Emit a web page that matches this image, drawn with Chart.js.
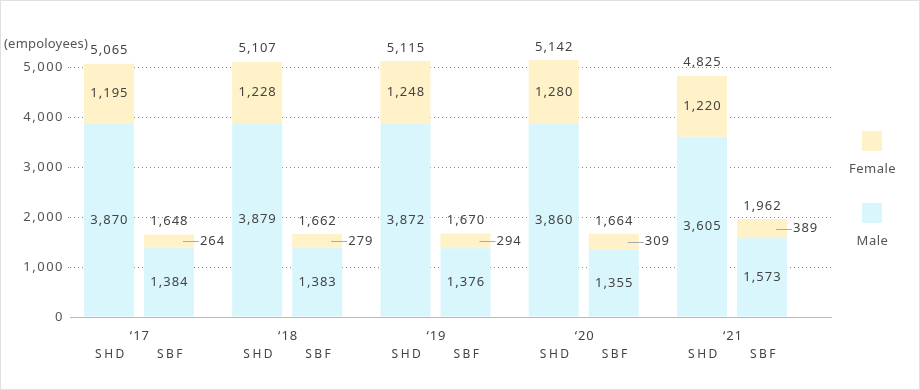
<!DOCTYPE html>
<html>
<head>
<meta charset="utf-8">
<script src="https://cdn.jsdelivr.net/npm/chart.js@4"></script>
<style>
  html, body { margin: 0; padding: 0; background: #fff; }
  canvas { display: block; }
</style>
</head>
<body>
<canvas id="myChart" width="920" height="390"></canvas>
<script>
// data
const years = ['‘17', '‘18', '‘19', '‘20', '‘21'];
const companies = ['SHD', 'SBF'];
const shdMale = [3870, 3879, 3872, 3860, 3605];
const shdFemale = [1195, 1228, 1248, 1280, 1220];
const shdTotal = [5065, 5107, 5115, 5142, 4825];
const sbfMale = [1384, 1383, 1376, 1355, 1573];
const sbfFemale = [264, 279, 294, 309, 389];
const sbfTotal = [1648, 1662, 1670, 1664, 1962];
const yTicks = [0, 1000, 2000, 3000, 4000, 5000];

const maleColor = '#d9f6fc';
const femaleColor = '#fff2c8';
const textColor = '#444';
const family = '"Noto Sans", sans-serif';

function points(arr) {
  return arr.map((v, i) => ({ x: i, y: v }));
}
const fmt = v => v.toLocaleString('en-US');

const labelsPlugin = {
  id: 'labels',
  beforeDraw(chart) {
    chart.ctx.letterSpacing = '1.5px';
  },
  afterDraw(chart) {
    const ctx = chart.ctx;
    const area = chart.chartArea;
    ctx.save();

    // frame
    ctx.strokeStyle = '#e0e0e0';
    ctx.lineWidth = 1;
    ctx.strokeRect(0.5, 0.5, 919, 389);

    ctx.textBaseline = 'middle';
    ctx.fillStyle = '#555';
    ctx.font = '13px ' + family;
    ctx.letterSpacing = '0.2px';
    ctx.textAlign = 'left';
    ctx.fillText('(empoloyees)', 4, 44);

    // values on the bars
    ctx.fillStyle = textColor;
    ctx.letterSpacing = '1px';
    chart.data.datasets.forEach((ds, di) => {
      const meta = chart.getDatasetMeta(di);
      meta.data.forEach((bar, i) => {
        const v = ds.data[i].y;
        const mid = (bar.y + bar.base) / 2;
        if (ds.stack === 'SBF' && ds.label === 'Female') {
          const right = bar.x + bar.width / 2;
          const ly = Math.round(mid) + 0.5;
          ctx.strokeStyle = '#aaa';
          ctx.beginPath();
          ctx.moveTo(bar.x + 14, ly);
          ctx.lineTo(right + 5, ly);
          ctx.stroke();
          ctx.textAlign = 'left';
          ctx.fillText(fmt(v), right + 6, mid);
        } else {
          ctx.textAlign = 'center';
          ctx.fillText(fmt(v), bar.x + 0.5, mid);
        }
        if (ds.label === 'Female') {
          ctx.textAlign = 'center';
          ctx.fillText(fmt(ds.totals[i]), bar.x + 0.5, bar.y - 13);
        }
      });
    });

    // x labels: year + company
    const shdMeta = chart.getDatasetMeta(0);
    const sbfMeta = chart.getDatasetMeta(2);
    ctx.fillStyle = '#444';
    years.forEach((yr, i) => {
      const a = shdMeta.data[i], b = sbfMeta.data[i];
      ctx.font = '13px ' + family;
      ctx.letterSpacing = '1px';
      ctx.textAlign = 'center';
      ctx.fillText(yr, (a.x + b.x) / 2 + 1, 336);
      ctx.font = '12px ' + family;
      ctx.letterSpacing = '2.5px';
      ctx.fillText(companies[0], a.x + 2, 355);
      ctx.fillText(companies[1], b.x + 2, 355);
    });

    // legend
    const lx = area.right + 31;
    const legend = [
      { label: 'Female', color: femaleColor, top: 131 },
      { label: 'Male', color: maleColor, top: 203 }
    ];
    ctx.font = '13px ' + family;
    ctx.letterSpacing = '0.5px';
    ctx.fillStyle = '#555';
    legend.forEach(l => {
      ctx.fillStyle = l.color;
      ctx.fillRect(lx, l.top, 20, 20);
      ctx.fillStyle = '#555';
      ctx.textAlign = 'center';
      ctx.fillText(l.label, lx + 10.5, l.top + 38);
    });

    ctx.restore();
  }
};

const myChart = new Chart(document.getElementById('myChart'), {
  type: 'bar',
  data: {
    datasets: [
      { label: 'Male', stack: 'SHD', data: points(shdMale), backgroundColor: maleColor },
      { label: 'Female', stack: 'SHD', data: points(shdFemale), backgroundColor: femaleColor, totals: shdTotal },
      { label: 'Male', stack: 'SBF', data: points(sbfMale), backgroundColor: maleColor },
      { label: 'Female', stack: 'SBF', data: points(sbfFemale), backgroundColor: femaleColor, totals: sbfTotal }
    ]
  },
  options: {
    responsive: false,
    animation: false,
    layout: { padding: { top: 42, right: 89, bottom: 0, left: 0 } },
    plugins: { legend: { display: false }, tooltip: { enabled: false } },
    datasets: { bar: { categoryPercentage: 0.8094, barPercentage: 0.8333 } },
    scales: {
      x: {
        type: 'linear',
        stacked: true,
        offset: false,
        min: -0.465,
        max: 4.668,
        afterBuildTicks: s => { s.ticks = years.map((_, i) => ({ value: i })); },
        afterFit: s => { s.height = 73; },
        ticks: { display: false },
        grid: { display: false, drawTicks: false },
        border: { display: true, color: '#b8b8b8', width: 1 }
      },
      y: {
        stacked: true,
        min: 0,
        max: 5500,
        afterBuildTicks: s => { s.ticks = yTicks.map(v => ({ value: v })); },
        afterFit: s => { s.width = 70; },
        ticks: { color: '#555', font: { family: family, size: 13 }, padding: 4 },
        grid: {
          color: c => (c.tick && c.tick.value === 0) ? 'rgba(0,0,0,0)' : '#888',
          tickLength: 2,
          tickBorderDash: [1, 3]
        },
        border: { display: false, dash: [1, 3] }
      }
    }
  },
  plugins: [labelsPlugin]
});
</script>
</body>
</html>
